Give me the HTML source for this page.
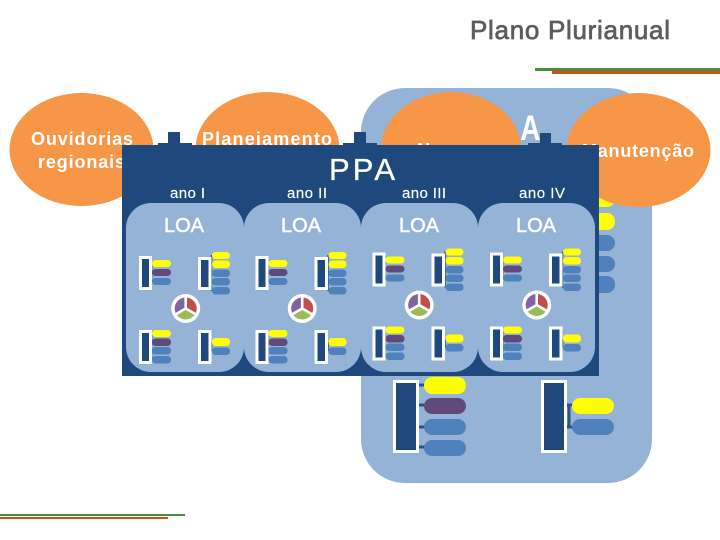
<!DOCTYPE html>
<html lang="pt">
<head>
<meta charset="utf-8">
<title>Plano Plurianual</title>
<style>
html,body{margin:0;padding:0;background:#fff;width:720px;height:540px;overflow:hidden}
svg{display:block;font-family:"Liberation Sans",sans-serif}
</style>
</head>
<body>
<svg width="720" height="540" viewBox="0 0 720 540" xmlns="http://www.w3.org/2000/svg">
<defs>
<clipPath id="loaclip"><rect x="520" y="100" width="40" height="50"/></clipPath>
<g id="mini">
  <path d="M151.500 263v19M151.500 333v27M211.500 255v36M211.500 342v9" stroke="#2a5487" stroke-width="1.500" fill="none"/>
  <rect x="140.500" y="257.500" width="10" height="31" fill="#1F497D" stroke="#fff" stroke-width="3"/>
  <rect x="199.500" y="258.500" width="10.500" height="30" fill="#1F497D" stroke="#fff" stroke-width="3"/>
  <rect x="140.500" y="331.500" width="10" height="31" fill="#1F497D" stroke="#fff" stroke-width="3"/>
  <rect x="199.500" y="331.500" width="10.500" height="31" fill="#1F497D" stroke="#fff" stroke-width="3"/>
  <rect x="152" y="260" width="19" height="7" rx="3.500" fill="#FFFF00"/>
  <rect x="152" y="269" width="19" height="7" rx="3.500" fill="#604A7B"/>
  <rect x="152" y="278" width="19" height="7" rx="3.500" fill="#4F81BD"/>
  <rect x="212" y="252" width="18" height="7" rx="3.500" fill="#FFFF00"/>
  <rect x="212" y="260.500" width="18" height="7.500" rx="3.500" fill="#FFFF00"/>
  <rect x="212" y="269.500" width="18" height="7.500" rx="3.500" fill="#4F81BD"/>
  <rect x="212" y="278" width="18" height="7.500" rx="3.500" fill="#4F81BD"/>
  <rect x="212" y="287" width="18" height="7.500" rx="3.500" fill="#4F81BD"/>
  <rect x="152" y="330" width="19" height="7" rx="3.500" fill="#FFFF00"/>
  <rect x="152" y="338.500" width="19" height="7.500" rx="3.500" fill="#604A7B"/>
  <rect x="152" y="347" width="19" height="7.500" rx="3.500" fill="#4F81BD"/>
  <rect x="152" y="356" width="19" height="7.500" rx="3.500" fill="#4F81BD"/>
  <rect x="212" y="338" width="18" height="8" rx="3.500" fill="#FFFF00"/>
  <rect x="212" y="347.500" width="18" height="7.500" rx="3.500" fill="#4F81BD"/>
  <g transform="translate(185.700 308.500)">
    <circle r="14.500" fill="#fff"/>
    <path d="M0 0L0 -11A11 11 0 0 0 -9.500 5.500Z" fill="#8064A2"/>
    <path d="M0 0L0 -11A11 11 0 0 1 9.500 5.500Z" fill="#C0504D"/>
    <path d="M0 0L-9.500 5.500A11 11 0 0 0 9.500 5.500Z" fill="#9BBB59"/>
    <path d="M0 0V-12M0 0L10.400 6M0 0L-10.400 6" stroke="#fff" stroke-width="2.600" fill="none"/>
  </g>
</g>
</defs>

<text x="470" y="39" font-size="26" fill="#5c5c5c" stroke="#5c5c5c" stroke-width=".7" textLength="200" lengthAdjust="spacing">Plano Plurianual</text>
<rect x="535" y="68" width="185" height="3" fill="#4F8A3C"/>
<rect x="552" y="71" width="168" height="3" fill="#C8521C"/>
<rect x="0" y="514" width="185" height="2" fill="#4F8A3C"/>
<rect x="0" y="517" width="168" height="2" fill="#C8521C"/>

<rect x="361" y="88" width="291" height="395" rx="44" fill="#95B3D7"/>

<rect x="573" y="190" width="42" height="17" rx="8" fill="#FFFF00"/>
<rect x="573" y="213" width="42" height="17" rx="8" fill="#FFFF00"/>
<rect x="573" y="235" width="42" height="16" rx="8" fill="#4F81BD"/>
<rect x="573" y="256" width="42" height="16" rx="8" fill="#4F81BD"/>
<rect x="573" y="276" width="42" height="17" rx="8" fill="#4F81BD"/>

<path d="M419 385H425M419 405H425M419 427H425M419 447H425M569 405V427M567 405H573M567 427H573" stroke="#2a5487" stroke-width="3" fill="none"/>
<rect x="394.500" y="381.500" width="23" height="70" fill="#1F497D" stroke="#fff" stroke-width="3"/>
<rect x="542.500" y="381.500" width="23" height="70" fill="#1F497D" stroke="#fff" stroke-width="3"/>
<rect x="424" y="377" width="42" height="17" rx="8" fill="#FFFF00"/>
<rect x="424" y="398" width="42" height="16" rx="8" fill="#604A7B"/>
<rect x="424" y="419" width="42" height="16" rx="8" fill="#4F81BD"/>
<rect x="424" y="440" width="42" height="16" rx="8" fill="#4F81BD"/>
<rect x="572" y="398" width="42" height="16" rx="8" fill="#FFFF00"/>
<rect x="572" y="419" width="42" height="16" rx="8" fill="#4F81BD"/>

<ellipse cx="81.500" cy="149.500" rx="72" ry="56.500" fill="#F79646"/>
<ellipse cx="267.500" cy="149" rx="72" ry="57" fill="#F79646"/>
<ellipse cx="451" cy="149" rx="70" ry="57" fill="#F79646"/>
<ellipse cx="638.500" cy="150" rx="72" ry="57" fill="#F79646"/>

<g clip-path="url(#loaclip)">
  <text transform="translate(540.500 140) scale(.8 1)" font-size="35" font-weight="bold" fill="#fff" text-anchor="end">LOA</text>
</g>

<g font-size="18" font-weight="bold" fill="#fff">
  <text x="31" y="145" textLength="102" lengthAdjust="spacing">Ouvidorias</text>
  <text x="38" y="168" textLength="87" lengthAdjust="spacing">regionais</text>
  <text x="202" y="145" textLength="130" lengthAdjust="spacing">Planejamento</text>
  <text x="417" y="156">N</text>
  <text x="582" y="157" textLength="112" lengthAdjust="spacing">Manutenção</text>
</g>

<path d="M158 145V143H168V132H180V143H192V145ZM343 145V143H354V132H366V143H377V145ZM528 145V143H540V133H551V143H562V145Z" fill="#1F497D"/>
<rect x="122" y="145" width="477" height="231" fill="#1F497D"/>

<text x="329" y="180" font-size="31" fill="#fff" stroke="#fff" stroke-width=".3" textLength="66" lengthAdjust="spacing">PPA</text>
<g font-size="15" fill="#fff" stroke="#fff" stroke-width=".15">
  <text x="170" y="198" textLength="35" lengthAdjust="spacing">ano I</text>
  <text x="287" y="198" textLength="40" lengthAdjust="spacing">ano II</text>
  <text x="402" y="198" textLength="44" lengthAdjust="spacing">ano III</text>
  <text x="519" y="198" textLength="46" lengthAdjust="spacing">ano IV</text>
</g>

<rect x="126" y="203" width="118" height="169" rx="25" fill="#95B3D7"/>
<rect x="244" y="203" width="117" height="169" rx="25" fill="#95B3D7"/>
<rect x="361" y="203" width="117" height="169" rx="25" fill="#95B3D7"/>
<rect x="478" y="203" width="117" height="169" rx="25" fill="#95B3D7"/>

<g font-size="20" fill="#fff" stroke="#fff" stroke-width=".5" text-anchor="middle">
  <text x="184" y="232">LOA</text>
  <text x="301" y="232">LOA</text>
  <text x="419" y="232">LOA</text>
  <text x="536" y="232">LOA</text>
</g>

<use href="#mini"/>
<use href="#mini" x="116.500"/>
<use href="#mini" x="233.500" y="-3.500"/>
<use href="#mini" x="351" y="-3.500"/>
</svg>
</body>
</html>
